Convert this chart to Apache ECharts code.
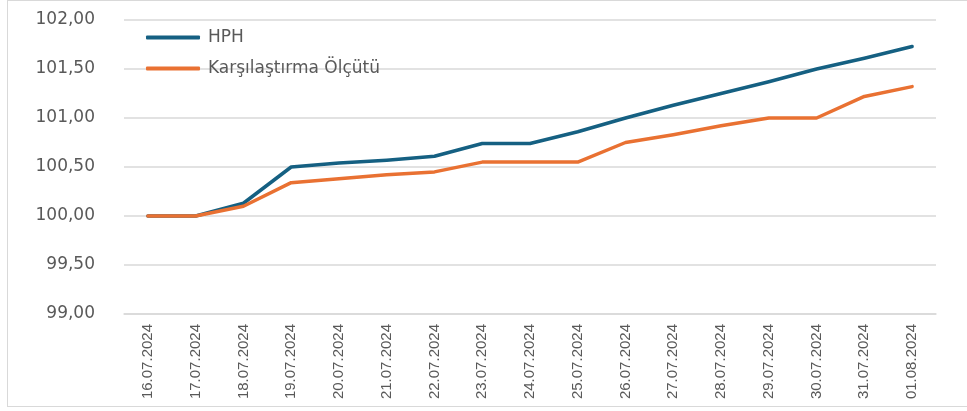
<!DOCTYPE html>
<html>
<head>
<meta charset="utf-8">
<script src="https://cdn.jsdelivr.net/npm/echarts@6/dist/echarts.min.js"></script>
<style>
  html, body { margin: 0; padding: 0; background: #fff; }
  #frame { position: absolute; left: 7px; top: 0; width: 980px; height: 405px; border: 1px solid #d9d9d9; }
  #chart { position: absolute; left: 0; top: 0; width: 967px; height: 411px; }
</style>
</head>
<body>
<div id="frame"></div>
<div id="chart"></div>
<script>
// tarihler
const dates = [
  "16.07.2024", "17.07.2024", "18.07.2024", "19.07.2024", "20.07.2024",
  "21.07.2024", "22.07.2024", "23.07.2024", "24.07.2024", "25.07.2024",
  "26.07.2024", "27.07.2024", "28.07.2024", "29.07.2024", "30.07.2024",
  "31.07.2024", "01.08.2024"
];
// HPH
const hph = [100.00, 100.00, 100.13, 100.50, 100.54, 100.57, 100.61, 100.74, 100.74,
  100.86, 101.00, 101.13, 101.25, 101.37, 101.50, 101.61, 101.73];
// Karşılaştırma Ölçütü
const benchmark = [100.00, 100.00, 100.10, 100.34, 100.38, 100.42, 100.45, 100.55, 100.55,
  100.55, 100.75, 100.83, 100.92, 101.00, 101.00, 101.22, 101.32];

const chart = echarts.init(document.getElementById("chart"));

const gridColor = "#d9d9d9";
const textColor = "#595959";

chart.setOption({
  animation: false,
  color: ["#156082", "#e97132"],
  grid: { left: 124, right: 31, top: 20, bottom: 97 },
  legend: {
    orient: "vertical",
    left: 141,
    top: 23,
    icon: "roundRect",
    itemWidth: 54,
    itemHeight: 4,
    itemGap: 12,
    textStyle: { color: textColor, fontSize: 17, fontFamily: "DejaVu Sans", lineHeight: 19, padding: [0, 0, 0, 3] },
    data: ["HPH", "Karşılaştırma Ölçütü"]
  },
  xAxis: {
    type: "category",
    data: dates,
    boundaryGap: true,
    axisLine: { lineStyle: { color: gridColor, width: 1.5 } },
    axisTick: { show: false },
    axisLabel: {
      rotate: 90,
      margin: 10,
      color: textColor,
      fontSize: 15,
      fontFamily: "'Liberation Sans', Arial",
      interval: 0
    }
  },
  yAxis: {
    type: "value",
    min: 99,
    max: 102,
    interval: 0.5,
    axisLine: { show: false },
    axisTick: { show: false },
    splitLine: { lineStyle: { color: gridColor, width: 1.5 } },
    axisLabel: {
      margin: 29,
      color: textColor,
      fontSize: 17,
      fontFamily: "DejaVu Sans",
      formatter: v => v.toFixed(2).replace(".", ",")
    }
  },
  series: [
    {
      name: "HPH",
      type: "line",
      data: hph,
      symbol: "none",
      lineStyle: { width: 3.5, cap: "round", join: "round" }
    },
    {
      name: "Karşılaştırma Ölçütü",
      type: "line",
      data: benchmark,
      symbol: "none",
      lineStyle: { width: 3.5, cap: "round", join: "round" }
    }
  ]
});
</script>
</body>
</html>
